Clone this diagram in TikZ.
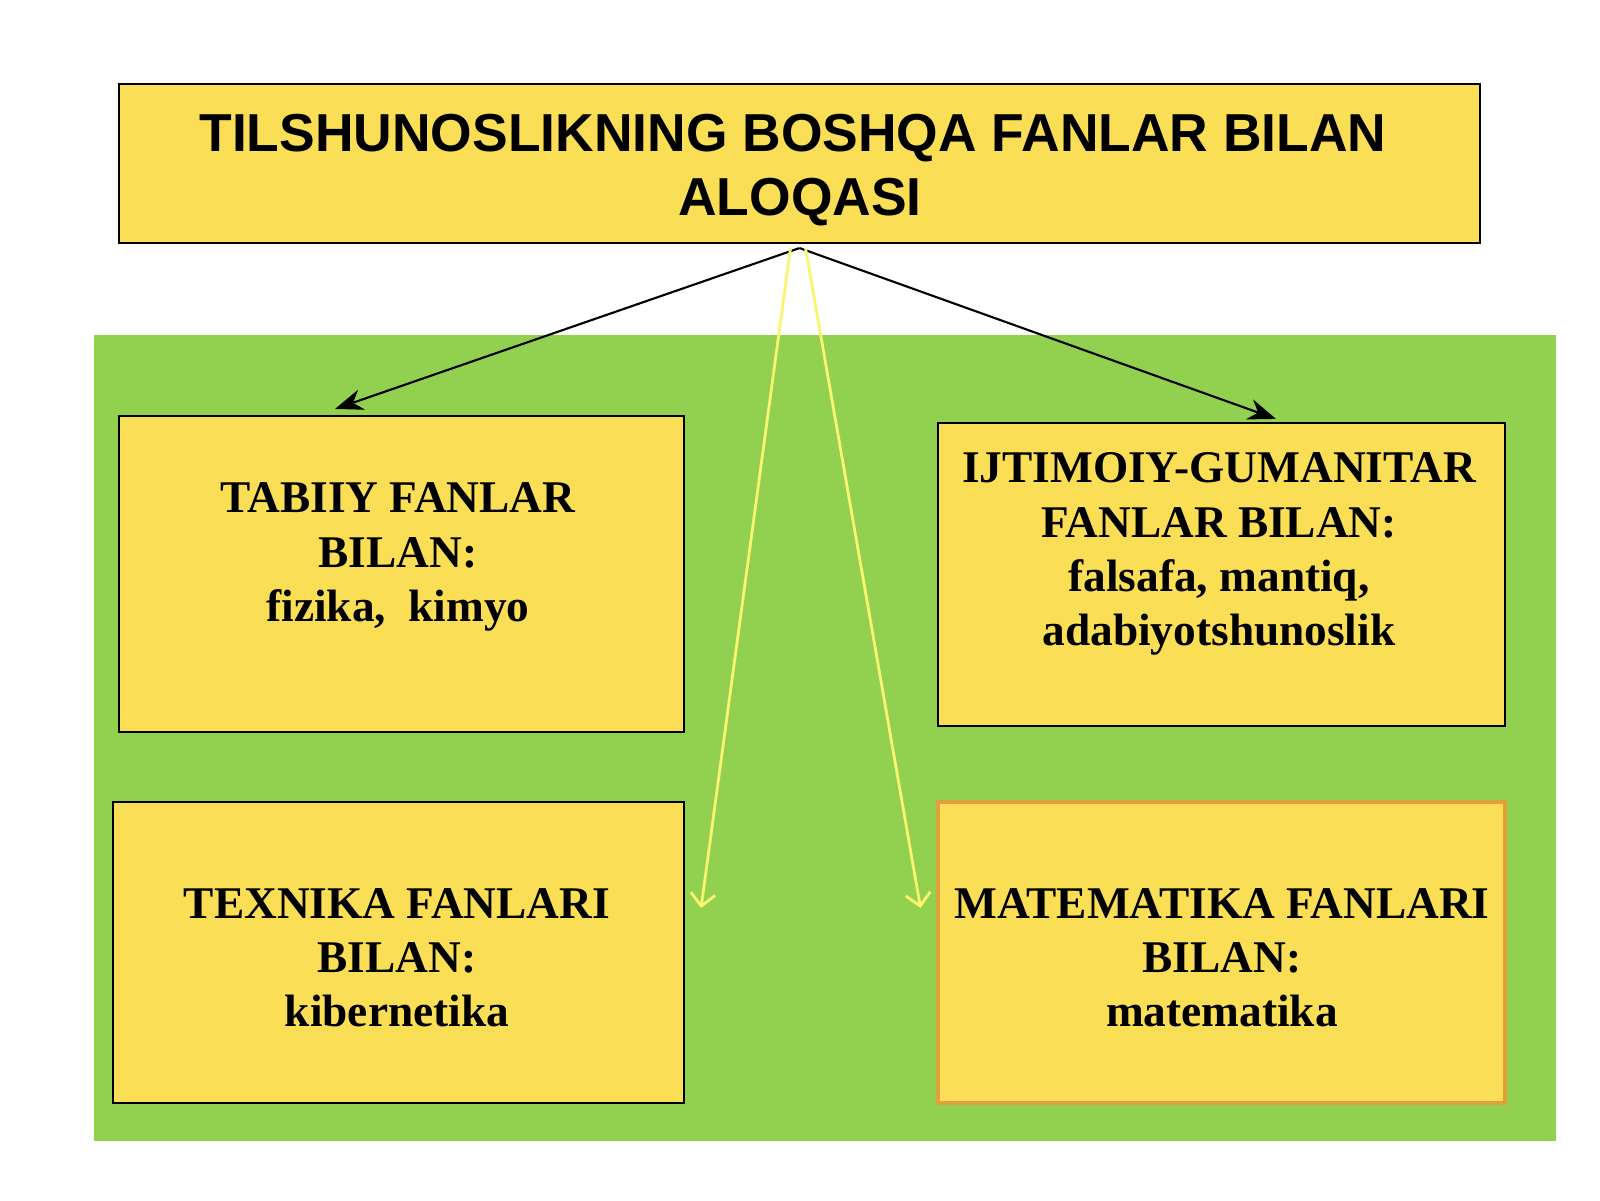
\documentclass[tikz,border=0pt]{standalone}
\usepackage{fontspec}
\setmainfont{Liberation Serif}
\newfontfamily\titlefont{Liberation Sans}
\usetikzlibrary{arrows.meta}
\definecolor{boxyellow}{RGB}{250,222,85}
\definecolor{bggreen}{RGB}{146,208,80}
\definecolor{arrowyellow}{RGB}{250,245,110}
\definecolor{boxorange}{RGB}{226,160,60}

\begin{document}
\begin{tikzpicture}[>={Stealth[length=8pt,width=6pt]},
    box/.style = {rectangle, draw, line width = 0.6pt, fill = boxyellow},
    boxtext/.style = {align = center, font = \fontsize{12.9}{15.4}\selectfont\bfseries}
    ]

    \useasboundingbox[fill = white] (0,0) rectangle (16,12);

    \fill[bggreen] (0.94,0.59) rectangle (15.56,8.65);

    \node[box,
          minimum width = 13.61cm,
          minimum height = 1.59cm
          ] (title) at (7.995,10.365) {};
    \node[align = center, font = \fontsize{15.2}{18.2}\selectfont\titlefont\bfseries]
        at (7.93,10.30) {TILSHUNOSLIKNING BOSHQA FANLAR BILAN\\\hspace{0.14cm}ALOQASI};

    \node[box,
          minimum width = 5.65cm,
          minimum height = 3.16cm
          ] (tabiiy) at (4.015,6.26) {};
    \node[boxtext] at (3.98,6.43) {TABIIY FANLAR\\BILAN:\\fizika,\ \ kimyo};

    \node[box,
          minimum width = 5.67cm,
          minimum height = 3.03cm
          ] (ijtimoiy) at (12.215,6.255) {};
    \node[boxtext] at (12.19,6.46) {IJTIMOIY-GUMANITAR\\FANLAR BILAN:\\falsafa, mantiq,\\adabiyotshunoslik};

    \node[box,
          minimum width = 5.71cm,
          minimum height = 3.01cm
          ] (texnika) at (3.985,2.475) {};
    \node[boxtext] at (3.97,2.42) {TEXNIKA FANLARI\\BILAN:\\kibernetika};

    \node[box,
          draw = boxorange,
          line width = 1.4pt,
          minimum width = 5.67cm,
          minimum height = 3.01cm
          ] (matem) at (12.215,2.475) {};
    \node[boxtext] at (12.22,2.42) {MATEMATIKA FANLARI\\BILAN:\\matematika};

    % arrow ends
    \coordinate (top) at ([yshift=-0.04cm]title.south);
    \coordinate (topl) at ([xshift=-0.09cm,yshift=-0.04cm]title.south);
    \coordinate (topr) at ([xshift=0.06cm,yshift=-0.04cm]title.south);
    \coordinate (tabend) at ([xshift=-0.665cm,yshift=0.06cm]tabiiy.north);
    \coordinate (ijtend) at ([xshift=0.545cm,yshift=0.03cm]ijtimoiy.north);
    \coordinate (texend) at ([xshift=0.16cm]texnika.east |- 0,2.92);
    \coordinate (matend) at ([xshift=-0.15cm]matem.west |- 0,2.92);

    \path[->, line width = 0.6pt]
    (top) edge [] (tabend)
    (top) edge [] (ijtend);

    \path[-{Straight Barb[length=3.5pt,width=7pt]}, arrowyellow, line width = 0.8pt]
    (topl) edge [] (texend)
    (topr) edge [] (matend);

\end{tikzpicture}
\end{document}
